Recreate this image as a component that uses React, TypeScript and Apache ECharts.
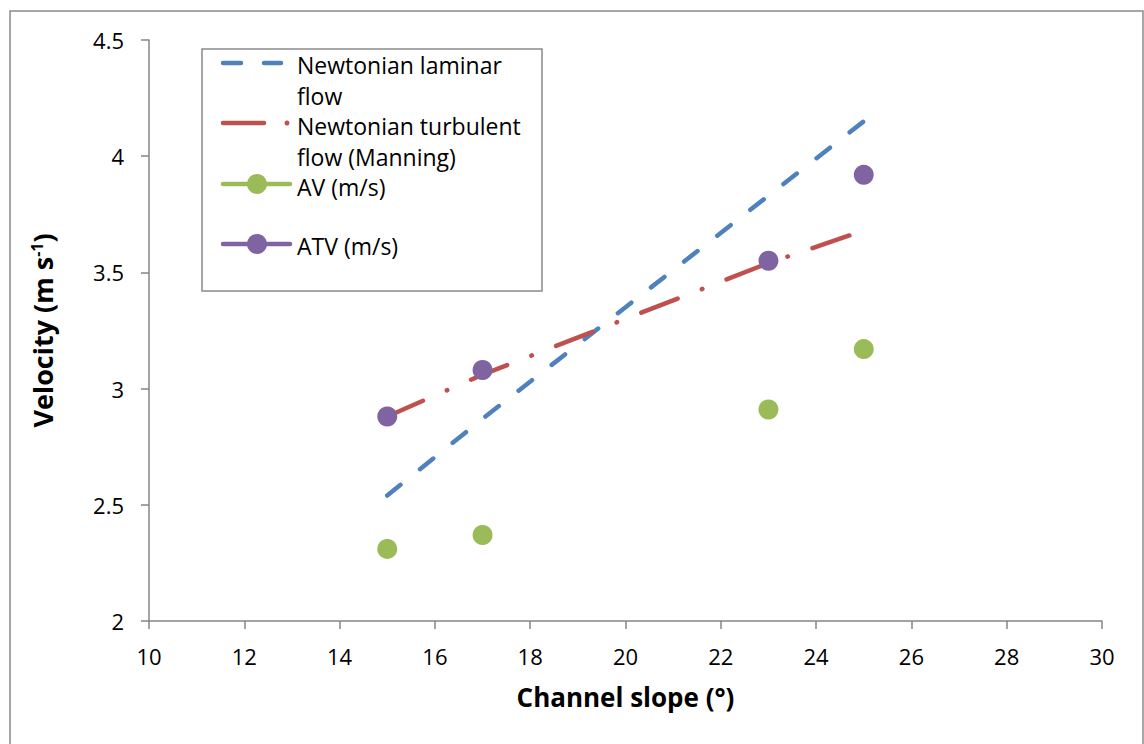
import React, { useEffect, useRef } from "react";
import * as echarts from "echarts";

const slopes = [15, 17, 23, 25];
const laminar = [2.54, 2.87, 3.83, 4.15];
const turbulent = [2.88, 3.06, 3.54, 3.68];
const av = [2.31, 2.37, 2.91, 3.17];
const atv = [2.88, 3.08, 3.55, 3.92];

const seriesNames = [
  ["Newtonian laminar", "flow"],
  ["Newtonian turbulent", "flow (Manning)"],
  ["AV (m/s)"],
  ["ATV (m/s)"],
];

const xTicks = { min: 10, max: 30, interval: 2 };
const yTicks = { min: 2, max: 4.5, interval: 0.5 };

const BLUE = "#4F81BD";
const RED = "#C0504D";
const GREEN = "#9BBB59";
const PURPLE = "#8064A2";
const AXIS = "#868686";
const FONT = "Open Sans";

const pairs = (ys: number[]) => slopes.map((x, i) => [x, ys[i]]);

export default function App() {
  const ref = useRef<HTMLDivElement>(null);
  useEffect(() => {
    document.body.style.margin = "0";
    const chart = echarts.init(ref.current!, null, { renderer: "svg" });
    const textStyle = { fontFamily: FONT, fontSize: 23, lineHeight: 25, fill: "#000" };
    const legendX = 297;
    const option: any = {
      animation: false,
      backgroundColor: "#fff",
      textStyle: { fontFamily: FONT },
      grid: { left: 149, right: 42, top: 40, bottom: 123, containLabel: false },
      xAxis: {
        type: "value",
        ...xTicks,
        name: "Channel slope (°)",
        nameLocation: "middle",
        nameGap: 63,
        nameTextStyle: { fontFamily: FONT, fontSize: 26, fontWeight: "bold", color: "#000" },
        axisLine: { show: true, onZero: false, lineStyle: { color: AXIS, width: 1.5 } },
        axisTick: { show: true, length: 8, lineStyle: { color: AXIS, width: 1.5 } },
        axisLabel: { fontFamily: FONT, fontSize: 22, color: "#000", margin: 24 },
        splitLine: { show: false },
      },
      yAxis: {
        type: "value",
        ...yTicks,
        name: "{a|Velocity (m s}{b|-1}{a|)}",
        nameLocation: "middle",
        nameRotate: 90,
        nameGap: 93,
        nameTextStyle: {
          rich: {
            a: { fontFamily: FONT, fontSize: 27, fontWeight: "bold", color: "#000" },
            b: { fontFamily: FONT, fontSize: 16, fontWeight: "bold", color: "#000", verticalAlign: "top" },
          },
        },
        axisLine: { show: true, onZero: false, lineStyle: { color: AXIS, width: 1.5 } },
        axisTick: { show: true, length: 8, lineStyle: { color: AXIS, width: 1.5 } },
        axisLabel: { fontFamily: FONT, fontSize: 22, color: "#000", margin: 25 },
        splitLine: { show: false },
      },
      series: [
        {
          name: seriesNames[0].join(" "),
          type: "line",
          data: pairs(laminar),
          showSymbol: false,
          symbol: "none",
          lineStyle: { color: BLUE, width: 4.5, type: [17, 25], cap: "round" },
          z: 2,
        },
        {
          name: seriesNames[1].join(" "),
          type: "line",
          data: pairs(turbulent),
          showSymbol: false,
          symbol: "none",
          lineStyle: { color: RED, width: 4.5, type: [39, 26, 0.5, 26], cap: "round" },
          z: 2,
        },
        {
          name: seriesNames[2][0],
          type: "scatter",
          data: pairs(av),
          symbol: "circle",
          symbolSize: 20,
          itemStyle: { color: GREEN, opacity: 1 },
          z: 3,
        },
        {
          name: seriesNames[3][0],
          type: "scatter",
          data: pairs(atv),
          symbol: "circle",
          symbolSize: 20,
          itemStyle: { color: PURPLE, opacity: 1 },
          z: 3,
        },
      ],
      graphic: [
        {
          type: "rect",
          shape: { x: 10, y: 11, width: 1133, height: 800 },
          style: { fill: "none", stroke: "#8a8a8a", lineWidth: 1.5 },
          silent: true,
          z: 0,
        },
        {
          type: "group",
          z: 10,
          children: [
            {
              type: "rect",
              shape: { x: 202, y: 49, width: 340, height: 242 },
              style: { fill: "#fff", stroke: "#8a8a8a", lineWidth: 1.5 },
            },
            // laminar sample
            { type: "line", shape: { x1: 223, y1: 63, x2: 241, y2: 63 }, style: { stroke: BLUE, lineWidth: 4.5, lineCap: "round" } },
            { type: "line", shape: { x1: 264, y1: 63, x2: 281, y2: 63 }, style: { stroke: BLUE, lineWidth: 4.5, lineCap: "round" } },
            { type: "text", x: legendX, y: 65, style: { ...textStyle, text: seriesNames[0][0], verticalAlign: "middle" } },
            { type: "text", x: legendX, y: 95.5, style: { ...textStyle, text: seriesNames[0][1], verticalAlign: "middle" } },
            // turbulent sample
            { type: "line", shape: { x1: 223, y1: 123, x2: 264, y2: 123 }, style: { stroke: RED, lineWidth: 4.5, lineCap: "round" } },
            { type: "circle", shape: { cx: 287, cy: 123, r: 2.5 }, style: { fill: RED } },
            { type: "text", x: legendX, y: 126, style: { ...textStyle, text: seriesNames[1][0], verticalAlign: "middle" } },
            { type: "text", x: legendX, y: 157, style: { ...textStyle, text: seriesNames[1][1], verticalAlign: "middle" } },
            // AV sample
            { type: "line", shape: { x1: 223, y1: 184, x2: 290, y2: 184 }, style: { stroke: GREEN, lineWidth: 4.5, lineCap: "round" } },
            { type: "circle", shape: { cx: 257, cy: 184, r: 10 }, style: { fill: GREEN } },
            { type: "text", x: legendX, y: 186.5, style: { ...textStyle, text: seriesNames[2][0], verticalAlign: "middle" } },
            // ATV sample
            { type: "line", shape: { x1: 223, y1: 244, x2: 290, y2: 244 }, style: { stroke: PURPLE, lineWidth: 4.5, lineCap: "round" } },
            { type: "circle", shape: { cx: 257, cy: 244, r: 10 }, style: { fill: PURPLE } },
            { type: "text", x: legendX, y: 246, style: { ...textStyle, text: seriesNames[3][0], verticalAlign: "middle" } },
          ],
        },
      ],
    };
    chart.setOption(option);
    return () => chart.dispose();
  }, []);
  return (
    <div
      ref={ref}
      style={{ position: "absolute", left: 0, top: 0, width: 1144, height: 744 }}
    />
  );
}
